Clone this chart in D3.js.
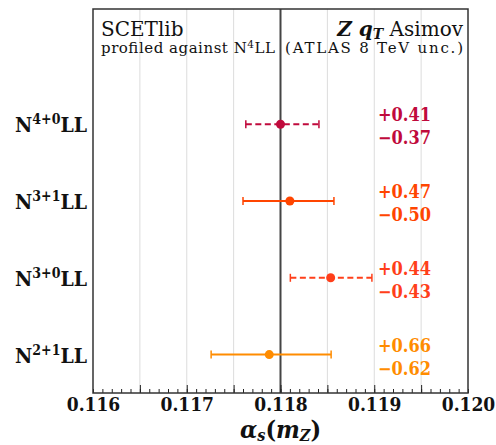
<!DOCTYPE html>
<html>
<head>
<meta charset="UTF-8" />
<script src="https://d3js.org/d3.v7.min.js"></script>
<style>
  body { margin: 0; background: #fff; }
  svg text { font-family: "DejaVu Serif Condensed", "DejaVu Serif", serif; font-stretch: condensed; }
  svg text.hdr { font-family: "DejaVu Serif", serif; font-stretch: normal; }
</style>
</head>
<body>
<svg id="chart" width="496" height="445"></svg>
<script>
  // orders, top to bottom
  const orders = [
    { base: "N", sup: "4+0", tail: "LL" },
    { base: "N", sup: "3+1", tail: "LL" },
    { base: "N", sup: "3+0", tail: "LL" },
    { base: "N", sup: "2+1", tail: "LL" }
  ];
  const central = [0.11800, 0.11810, 0.118535, 0.11788];
  const errUp = [0.41, 0.47, 0.44, 0.66];   // x 1e-3
  const errDown = [0.37, 0.50, 0.43, 0.62]; // x 1e-3
  const colors = ["#c00a3c", "#ff4500", "#ff3f1a", "#ff8c00"];
  const dashed = [true, false, true, false];
  const xTicks = [0.116, 0.117, 0.118, 0.119, 0.120];

  const svg = d3.select("#chart");
  const margin = { top: 9, right: 28, bottom: 52, left: 93 };
  const W = 496, H = 445;
  const x = d3.scaleLinear().domain([0.116, 0.120]).range([margin.left, W - margin.right]);
  const y = d3.scaleLinear().domain([-0.5, 4.5]).range([H - margin.bottom, margin.top]);
  const rowY = i => y(orders.length - 1 - i);

  // grid
  const grid = d3.range(0, 9).map(i => 0.116 + i * 0.0005).filter(v => v > 0.116 && v < 0.120);
  svg.append("g").selectAll("line").data(grid).join("line")
    .attr("x1", d => x(d)).attr("x2", d => x(d))
    .attr("y1", margin.top).attr("y2", H - margin.bottom)
    .attr("stroke", "#dcdcdc").attr("stroke-width", 1);

  // reference line
  svg.append("line")
    .attr("x1", x(0.118)).attr("x2", x(0.118))
    .attr("y1", margin.top).attr("y2", H - margin.bottom)
    .attr("stroke", "#444").attr("stroke-width", 2);

  // axis with inward ticks
  const minor = d3.range(0, 41).map(i => 0.116 + i * 0.0001);
  const axisG = svg.append("g").attr("transform", `translate(0,${H - margin.bottom})`);
  axisG.call(d3.axisBottom(x).tickValues(minor).tickSize(-4).tickFormat(""));
  axisG.select(".domain").remove();
  const axisMajor = svg.append("g").attr("transform", `translate(0,${H - margin.bottom})`);
  axisMajor.call(d3.axisBottom(x).tickValues(grid).tickSize(-8).tickFormat(""));
  axisMajor.select(".domain").remove();
  svg.selectAll(".tick line").attr("stroke", "#222").attr("stroke-width", 1);

  const axisLab = svg.append("g").attr("transform", `translate(0,${H - margin.bottom})`);
  axisLab.call(d3.axisBottom(x).tickValues(xTicks).tickSize(0).tickPadding(0).tickFormat(d3.format(".3f")));
  axisLab.select(".domain").remove();
  axisLab.selectAll("text")
    .attr("dy", 18)
    .attr("font-size", 19).attr("font-weight", "bold").attr("fill", "#111")
    .style("font-family", "'DejaVu Serif Condensed', 'DejaVu Serif', serif");

  // frame
  svg.append("rect")
    .attr("x", margin.left).attr("y", margin.top)
    .attr("width", W - margin.left - margin.right).attr("height", H - margin.top - margin.bottom)
    .attr("fill", "none").attr("stroke", "#333").attr("stroke-width", 1.5);

  // x label
  const xl = svg.append("text").attr("x", x(0.118)).attr("y", 438)
    .attr("text-anchor", "middle").attr("font-size", 25).attr("font-weight", "bold")
    .attr("font-style", "italic").attr("fill", "#111");
  xl.append("tspan").text("α");
  xl.append("tspan").attr("font-size", 16).attr("dy", 3).text("s");
  xl.append("tspan").attr("dy", -3).attr("font-style", "normal").text("(");
  xl.append("tspan").text("m");
  xl.append("tspan").attr("font-size", 16).attr("dy", 3).text("Z");
  xl.append("tspan").attr("dy", -3).attr("font-style", "normal").text(")");

  // error bars
  const rows = svg.append("g").selectAll("g").data(orders).join("g");
  rows.append("line")
    .attr("x1", (d, i) => x(central[i] - errDown[i] * 1e-3))
    .attr("x2", (d, i) => x(central[i] + errUp[i] * 1e-3))
    .attr("y1", (d, i) => rowY(i)).attr("y2", (d, i) => rowY(i))
    .attr("stroke", (d, i) => colors[i]).attr("stroke-width", 2)
    .attr("stroke-dasharray", (d, i) => dashed[i] ? "6,3.5" : null);
  [errDown.map((e, i) => central[i] - e * 1e-3), errUp.map((e, i) => central[i] + e * 1e-3)].forEach(ends => {
    rows.append("line")
      .attr("x1", (d, i) => x(ends[i])).attr("x2", (d, i) => x(ends[i]))
      .attr("y1", (d, i) => rowY(i) - 4).attr("y2", (d, i) => rowY(i) + 4)
      .attr("stroke", (d, i) => colors[i]).attr("stroke-width", 1.5);
  });
  rows.append("circle")
    .attr("cx", (d, i) => x(central[i])).attr("cy", (d, i) => rowY(i))
    .attr("r", 4.5).attr("fill", (d, i) => colors[i]);

  // uncertainty text
  rows.append("text").attr("x", 378).attr("y", (d, i) => rowY(i) - 3)
    .attr("font-size", 18).attr("font-weight", "bold").attr("fill", (d, i) => colors[i])
    .text((d, i) => "+" + errUp[i].toFixed(2));
  rows.append("text").attr("x", 378).attr("y", (d, i) => rowY(i) + 20)
    .attr("font-size", 18).attr("font-weight", "bold").attr("fill", (d, i) => colors[i])
    .text((d, i) => "\u2212" + errDown[i].toFixed(2));

  // order labels
  const lab = rows.append("text").attr("x", 87).attr("y", (d, i) => rowY(i) + 8)
    .attr("text-anchor", "end").attr("font-size", 21).attr("font-weight", "bold").attr("fill", "#111");
  lab.append("tspan").text(d => d.base);
  lab.append("tspan").attr("font-size", 14).attr("dy", -8).text(d => d.sup);
  lab.append("tspan").attr("dy", 8).text(d => d.tail);

  // header texts
  svg.append("text").attr("class", "hdr").attr("x", 101).attr("y", 36).attr("font-size", 20)
    .attr("fill", "#111").text("SCETlib");
  const prof = svg.append("text").attr("class", "hdr").attr("x", 101).attr("y", 53).attr("font-size", 15)
    .attr("fill", "#111").attr("textLength", 174).attr("lengthAdjust", "spacing");
  prof.append("tspan").text("profiled against N");
  prof.append("tspan").attr("font-size", 10.5).attr("dy", -5).text("4");
  prof.append("tspan").attr("dy", 5).text("LL");

  const ttl = svg.append("text").attr("class", "hdr").attr("x", 463).attr("y", 36).attr("text-anchor", "end")
    .attr("font-size", 20).attr("fill", "#111");
  ttl.append("tspan").attr("font-weight", "bold").attr("font-style", "italic").text("Z q");
  ttl.append("tspan").attr("font-weight", "bold").attr("font-style", "italic").attr("font-size", 14).attr("dy", 3).text("T");
  ttl.append("tspan").attr("dy", -3).text(" Asimov");
  svg.append("text").attr("class", "hdr").attr("x", 463).attr("y", 53).attr("text-anchor", "end")
    .attr("font-size", 15).attr("fill", "#111")
    .attr("textLength", 178).attr("lengthAdjust", "spacing").text("(ATLAS 8 TeV unc.)");
</script>
</body>
</html>
